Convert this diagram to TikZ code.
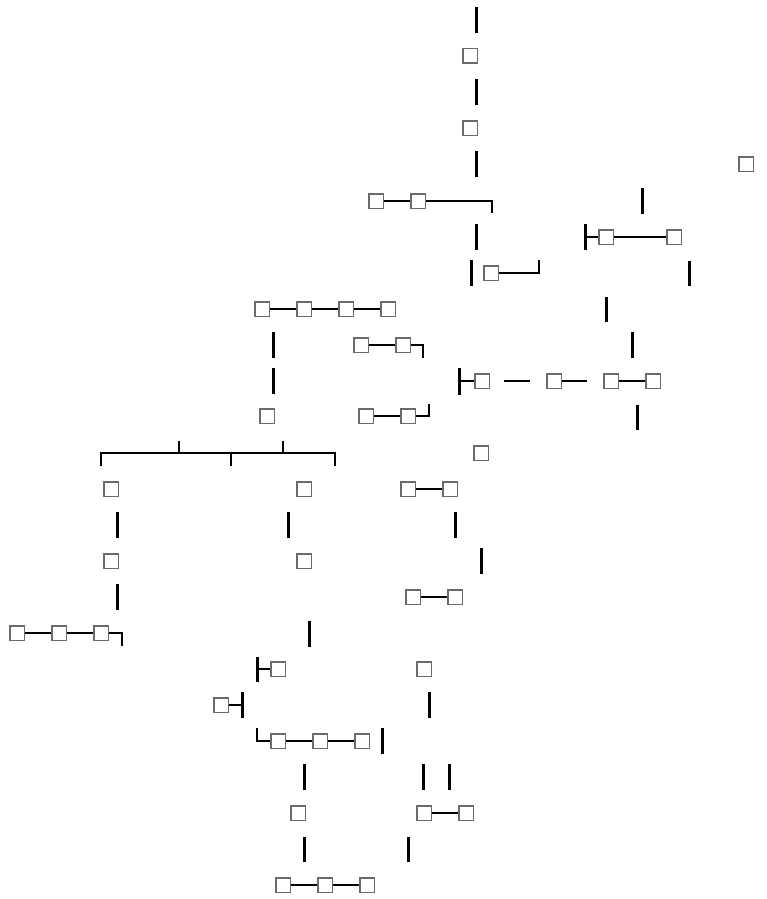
\documentclass[tikz,border=0pt]{standalone}
\begin{document}
\begin{tikzpicture}[x=1pt,y=-1pt,
  sq/.style={draw=black!58, line width=1.5pt, minimum size=14.5pt, inner sep=0pt, fill=white},
  bar/.style={line width=3pt, black},
  hbar/.style={line width=2.7pt, black}]
\useasboundingbox (0,0) rectangle (766,899);
% squares
\foreach \n/\x/\y in {s1/470/56, s2/470/128, s3/376/201, s4/418/201, s5/491/273, s6/746/164,
  s7/606/237, s8/674/237, s9/262/309, s10/304/309, s11/346/309, s12/388/309,
  s13/361/345, s14/403/345, s15/267/416, s16/366/416, s17/408/416,
  s18/482/381, s19/554/381, s20/611/381, s21/653/381, s22/481/453,
  s23/111/489, s24/304/489, s25/408/489, s26/450/489,
  s27/111/561, s28/304/561, s29/413/597, s30/455/597,
  s31/17/633, s32/59/633, s33/101/633, s34/278/669, s35/424/669, s36/221/705,
  s37/278/741, s38/320/741, s39/362/741, s40/298/813, s41/424/813, s42/466/813,
  s43/283/885, s44/325/885, s45/367/885}
  \node[sq] (\n) at (\x,\y) {};
% horizontal connectors between squares
\foreach \a/\b in {s3/s4, s7/s8, s9/s10, s10/s11, s11/s12, s13/s14, s16/s17, s20/s21,
  s25/s26, s29/s30, s31/s32, s32/s33, s37/s38, s38/s39, s41/s42, s43/s44, s44/s45}
  \draw[hbar] (\a) -- (\b);
% hooks and bars
\coordinate (h4a) at (492,201); \coordinate (h4b) at (492,213);
\draw[hbar] (s4.east) -- (h4a) -- (h4b);
\coordinate (h5a) at (539,273); \coordinate (h5b) at (539,260);
\draw[hbar] (s5.east) -- (h5a) -- (h5b);
\coordinate (t7) at (585,237);
\draw[hbar] (t7) -- (s7.west);
\draw[bar] (585,224) -- (585,250);
\coordinate (h14a) at (423,345); \coordinate (h14b) at (423,358);
\draw[hbar] (s14.east) -- (h14a) -- (h14b);
\coordinate (h17a) at (429,416); \coordinate (h17b) at (429,404);
\draw[hbar] (s17.east) -- (h17a) -- (h17b);
\coordinate (t18) at (459,381);
\draw[hbar] (t18) -- (s18.west);
\draw[bar] (459,368) -- (459,395);
\draw[hbar] (504,381) -- (530,381);
\coordinate (e19) at (587,381);
\draw[hbar] (s19.east) -- (e19);
\coordinate (h33a) at (122,633); \coordinate (h33b) at (122,646);
\draw[hbar] (s33.east) -- (h33a) -- (h33b);
\coordinate (t34) at (257,669);
\draw[hbar] (t34) -- (s34.west);
\draw[bar] (257,657) -- (257,682);
\coordinate (t36) at (242,705);
\draw[hbar] (s36.east) -- (t36);
\draw[bar] (242,692) -- (242,718);
\coordinate (l37a) at (257,728); \coordinate (l37b) at (257,741);
\draw[hbar] (l37a) -- (l37b) -- (s37.west);
% bracket
\draw[hbar] (101,466) -- (101,453) -- (335,453) -- (335,466);
\draw[hbar] (231,453) -- (231,466);
\draw[hbar] (179,441) -- (179,453);
\draw[hbar] (283,441) -- (283,453);
% free vertical segments
\foreach \x/\ya/\yb in {476/7/33, 476/79/105, 476/151/177, 476/224/250, 471/260/286,
  642/188/214, 689/261/286, 606/297/322, 632/332/358, 637/405/430,
  273/332/358, 273/368/394, 117/512/538, 288/512/538, 455/512/538, 481/548/574,
  117/584/610, 309/621/647, 429/692/718, 382/728/754, 304/764/790, 423/764/790,
  449/764/790, 304/837/862, 408/837/862}
  \draw[bar] (\x,\ya) -- (\x,\yb);
\end{tikzpicture}
\end{document}
